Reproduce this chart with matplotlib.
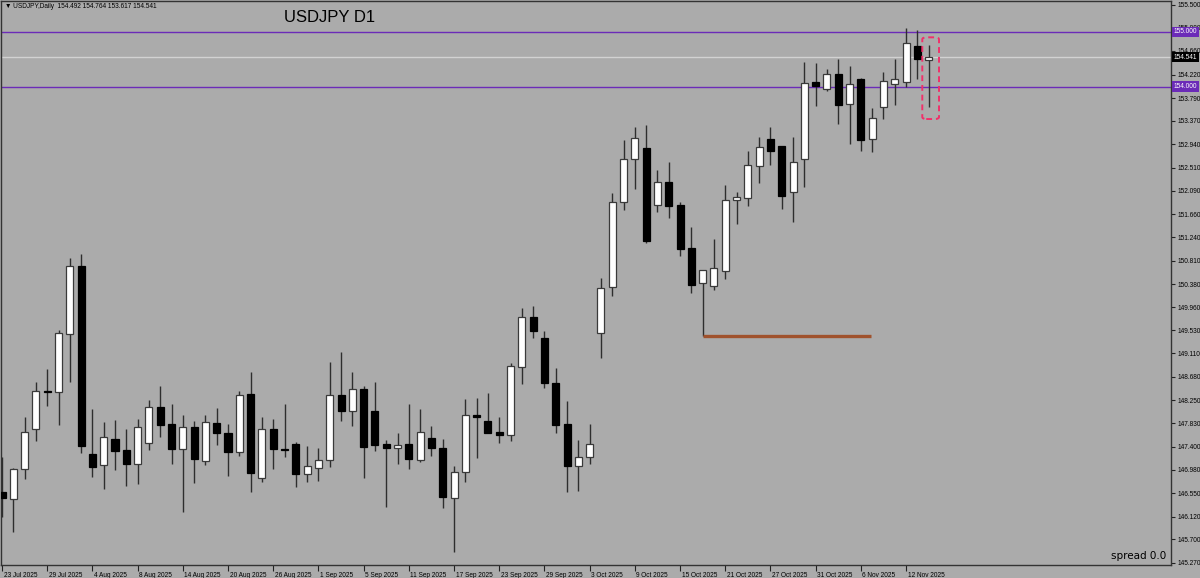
import matplotlib
matplotlib.use('Agg')
import matplotlib.pyplot as plt
from matplotlib.patches import Rectangle, FancyBboxPatch
from matplotlib import transforms
from matplotlib import font_manager

# ---------------- data ----------------
symbol = "USDJPY"
title = "USDJPY D1"
header = "\u25BC USDJPY,Daily  154.492 154.764 153.617 154.541"

opens = [
    146.576, 146.447, 146.986, 147.719, 148.426, 148.397, 149.471, 150.717, 147.261, 147.059,
    147.547, 147.340, 147.089, 147.463, 148.122, 147.811, 147.353, 147.756, 147.144, 147.829,
    147.651, 147.298, 148.366, 146.821, 147.730, 147.364, 147.444, 146.895, 147.004, 147.157,
    148.348, 148.054, 148.463, 148.054, 147.455, 147.376, 147.444, 147.151, 147.554, 147.382,
    146.455, 146.931, 147.976, 147.871, 147.675, 147.609, 148.866, 149.772, 149.398, 148.573,
    147.822, 147.041, 147.206, 149.478, 150.332, 151.890, 152.667, 152.879, 151.835, 152.256,
    151.829, 151.047, 150.406, 150.351, 150.625, 151.912, 151.963, 152.544, 153.033, 152.911,
    152.062, 152.667, 154.078, 153.950, 154.230, 153.680, 154.133, 153.033, 153.631, 154.038,
    154.078, 154.743, 154.492]
closes = [
    146.455, 146.986, 147.675, 148.426, 148.397, 149.478, 150.717, 147.413, 147.034, 147.573,
    147.327, 147.089, 147.756, 148.122, 147.798, 147.353, 147.756, 147.180, 147.858, 147.646,
    147.298, 148.348, 146.924, 147.730, 147.353, 147.340, 146.895, 147.041, 147.157, 148.348,
    148.054, 148.463, 147.389, 147.437, 147.376, 147.437, 147.169, 147.675, 147.376, 146.473,
    146.931, 147.987, 147.950, 147.657, 147.609, 148.879, 149.772, 149.520, 148.562, 147.798,
    147.041, 147.212, 147.455, 150.314, 151.879, 152.667, 153.052, 151.170, 152.256, 151.817,
    151.018, 150.369, 150.638, 150.680, 151.921, 151.970, 152.562, 152.887, 152.824, 152.000,
    152.623, 154.060, 154.010, 154.225, 153.662, 154.041, 153.021, 153.429, 154.102, 154.133,
    154.793, 154.505, 154.541]
highs = [
    147.217, 147.015, 147.950, 148.580, 148.819, 149.539, 150.853, 150.926, 148.091, 147.847,
    147.890, 147.719, 147.908, 148.256, 148.518, 148.177, 147.981, 147.871, 147.987, 148.115,
    147.816, 148.421, 148.775, 147.950, 147.908, 148.183, 147.492, 147.413, 147.382, 148.947,
    149.141, 148.775, 148.518, 148.580, 147.523, 147.646, 148.183, 148.086, 147.780, 147.536,
    147.047, 148.274, 148.287, 148.379, 147.950, 148.929, 149.936, 149.979, 149.526, 148.837,
    148.243, 147.523, 147.816, 150.486, 152.044, 153.021, 153.253, 153.295, 152.471, 152.623,
    151.879, 151.421, 150.638, 151.206, 152.196, 152.062, 152.819, 153.070, 153.264, 152.911,
    153.070, 154.455, 154.426, 154.316, 154.499, 154.377, 154.151, 153.612, 154.261, 154.505,
    155.067, 155.036, 154.764]
lows = [
    146.118, 145.843, 146.803, 147.510, 148.152, 147.798, 148.591, 147.279, 146.851, 146.620,
    146.973, 146.680, 146.711, 147.340, 147.584, 147.083, 146.209, 146.741, 147.070, 147.437,
    146.869, 147.235, 146.576, 146.759, 146.986, 147.217, 146.667, 146.748, 146.777, 147.034,
    147.877, 147.785, 146.821, 147.327, 146.301, 147.083, 146.986, 147.114, 147.230, 146.271,
    145.476, 146.759, 147.188, 147.657, 147.463, 147.510, 148.549, 149.398, 148.470, 147.646,
    146.576, 146.594, 147.078, 149.020, 150.167, 151.738, 152.117, 151.139, 151.707, 151.597,
    150.895, 150.211, 149.420, 150.272, 150.468, 151.481, 151.811, 152.238, 152.562, 151.751,
    151.523, 152.165, 153.649, 153.924, 153.314, 152.947, 152.824, 152.806, 153.405, 153.671,
    153.986, 154.133, 153.617]

date_labels = ["23 Jul 2025", "29 Jul 2025", "4 Aug 2025", "8 Aug 2025", "14 Aug 2025",
               "20 Aug 2025", "26 Aug 2025", "1 Sep 2025", "5 Sep 2025", "11 Sep 2025",
               "17 Sep 2025", "23 Sep 2025", "29 Sep 2025", "3 Oct 2025", "9 Oct 2025",
               "15 Oct 2025", "21 Oct 2025", "27 Oct 2025", "31 Oct 2025", "6 Nov 2025",
               "12 Nov 2025"]
price_ticks = ["155.500", "155.080", "154.660", "154.220", "153.790", "153.370", "152.940",
               "152.510", "152.090", "151.660", "151.240", "150.810", "150.380", "149.960",
               "149.530", "149.110", "148.680", "148.250", "147.830", "147.400", "146.980",
               "146.550", "146.120", "145.700", "145.270"]
hlines = [155.000, 154.000]
bid = 154.541
support_level = 149.420
support_start, support_end = 62, 76.9
box_x = (81.44, 82.92)
box_y = (153.405, 154.902)
spread_text = "spread 0.0"

# ---------------- style ----------------
BG = '#ababab'
PURPLE = '#6b2bb8'
avail = {f.name for f in font_manager.fontManager.ttflist}
if 'Liberation Sans Narrow' in avail:
    small_family, small_size = 'Liberation Sans Narrow', 5.8
elif 'Liberation Sans' in avail:
    small_family, small_size = 'Liberation Sans', 4.7
else:
    small_family, small_size = 'DejaVu Sans', 4.2

W, H = 1200, 578
fig = plt.figure(figsize=(W / 100, H / 100), dpi=100, facecolor=BG)
ax = fig.add_axes([1 / W, 13 / H, 1170 / W, 564 / H], facecolor=BG)

n = len(opens)
bw = 0.62
for i in range(n):
    o, h, l, c = opens[i], highs[i], lows[i], closes[i]
    ax.vlines(i, l, h, color='#2e2e2e', linewidth=1.0, zorder=2)
    bottom = min(o, c)
    height = max(abs(c - o), 0.022)
    if c >= o:
        fc, ec = 'white', '#3a3a3a'
    else:
        fc, ec = 'black', 'black'
    ax.add_patch(Rectangle((i - bw / 2, bottom), bw, height, facecolor=fc,
                           edgecolor=ec, linewidth=0.9, zorder=3))

for lv in hlines:
    ax.axhline(lv, color=PURPLE, linewidth=1.0, zorder=1)
ax.axhline(bid, color='#d2d2d2', linewidth=1.0, zorder=1)
ax.hlines(support_level, support_start, support_end, color='#a0522d', linewidth=2.4, zorder=4)

box = FancyBboxPatch((box_x[0], box_y[0]), box_x[1] - box_x[0], box_y[1] - box_y[0],
                     boxstyle='round,pad=0,rounding_size=0.35', mutation_aspect=0.11,
                     facecolor='none', edgecolor='#f0306a', linewidth=1.4,
                     linestyle=(0, (3, 2)), zorder=5)
ax.add_patch(box)

ax.set_xlim(-0.0885, 103.45)
ax.set_ylim(145.232, 155.568)

# x ticks
xt = list(range(0, 4 * len(date_labels), 4))
ax.set_xticks(xt)
ax.set_xticklabels(date_labels, ha='left', fontsize=small_size, family=small_family)
ax.tick_params(axis='x', direction='out', length=4, width=0.8, color='#222222', pad=1)
offset = transforms.ScaledTranslation(1.5 / 100, 0, fig.dpi_scale_trans)
for lab in ax.get_xticklabels():
    lab.set_transform(lab.get_transform() + offset)

# y ticks
ax.yaxis.tick_right()
ax.set_yticks([float(t) for t in price_ticks])
ax.set_yticklabels(price_ticks, fontsize=small_size, family=small_family)
ax.tick_params(axis='y', direction='out', length=3, width=0.8, color='#222222', pad=1.5)

for s in ax.spines.values():
    s.set_color('#333333')
    s.set_linewidth(1.0)

# price label boxes on the right axis
tr = transforms.blended_transform_factory(fig.transFigure, ax.transData)
for lv, col in [(hlines[0], PURPLE), (bid, 'black'), (hlines[1], PURPLE)]:
    fig.text(1174 / W, lv, f"{lv:.3f}", transform=tr, ha='left', va='center',
             fontsize=small_size, family=small_family, color='white',
             bbox=dict(boxstyle='square,pad=0.3', facecolor=col, edgecolor='none'),
             zorder=10)

fig.text(5 / W, 1 - 7 / H, header, ha='left', va='center', fontsize=small_size,
         family=[small_family, 'DejaVu Sans'], color='black')
fig.text(284 / W, 1 - 17 / H, title, ha='left', va='center', fontsize=12,
         family=['Liberation Sans', 'DejaVu Sans'], color='black')
fig.text(1166 / W, 1 - 556 / H, spread_text, ha='right', va='center', fontsize=7.5,
         family=['DejaVu Sans'], color='black')

fig.savefig('out.png', dpi=100, facecolor=BG)
